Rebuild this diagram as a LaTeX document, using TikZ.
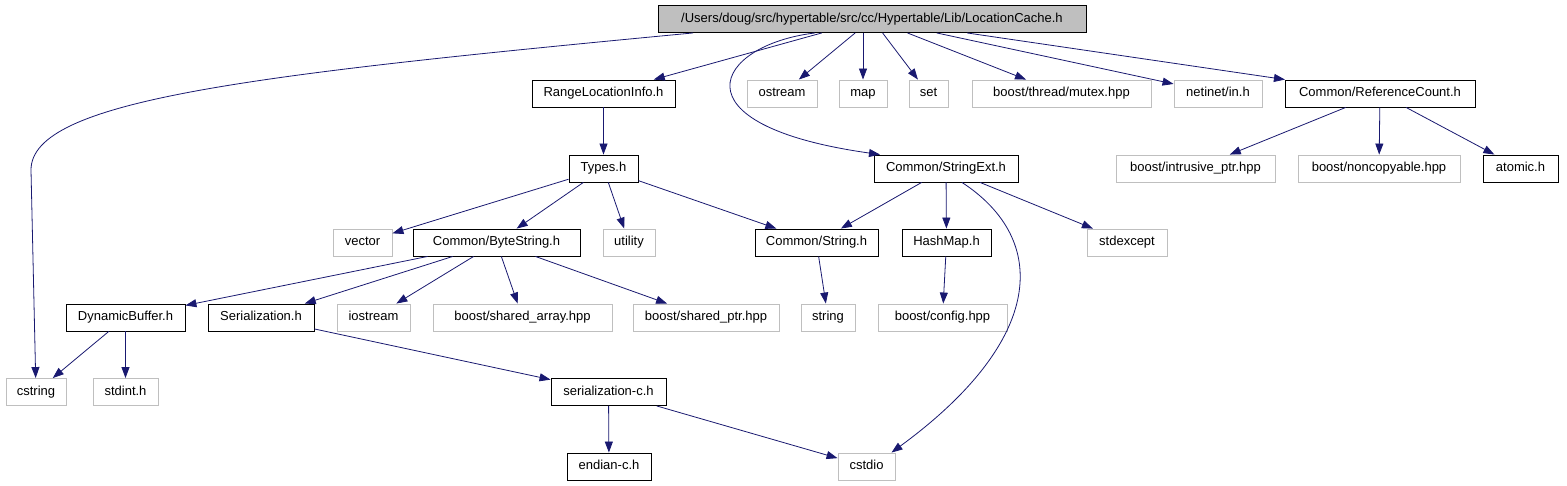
\documentclass[tikz,border=0pt]{standalone}
\usepackage{fontspec}
\setmainfont{Liberation Sans}
\usetikzlibrary{arrows.meta}
\definecolor{edgeblue}{HTML}{191970}
\definecolor{extgray}{HTML}{BFBFBF}
\begin{document}
\begin{tikzpicture}[x=1pt, y=-1pt,
  file/.style={draw=black, line width=0.9pt, minimum height=27pt, inner sep=0pt, text height=9.5pt, text depth=2.8pt, font=\fontsize{13}{15}\selectfont},
  sysfile/.style={file, draw=extgray},
  rootfile/.style={file, fill=extgray},
  edge/.style={-{Triangle[length=11pt,width=8pt]}, draw=edgeblue, line width=0.8pt}]
\useasboundingbox (0,0) rectangle (1567,485);
% File radice
\node[rootfile, minimum width=428pt] (root) at (872,19) {/Users/doug/src/hypertable/src/cc/Hypertable/Lib/LocationCache.h};
% Primo livello
\node[file, minimum width=143pt] (rli) at (603.5,93.5) {RangeLocationInfo.h};
\node[sysfile, minimum width=70pt] (ostream) at (782,93.5) {ostream};
\node[sysfile, minimum width=48pt] (map) at (863,93.5) {map};
\node[sysfile, minimum width=39pt] (set) at (928.5,93.5) {set};
\node[sysfile, minimum width=179pt] (mutex) at (1061.5,93.5) {boost/thread/mutex.hpp};
\node[sysfile, minimum width=88pt] (netinet) at (1218,93.5) {netinet/in.h};
\node[file, minimum width=190pt] (refcount) at (1380,93.5) {Common/ReferenceCount.h};
% Secondo livello
\node[file, minimum width=69pt] (types) at (603.5,168.5) {Types.h};
\node[file, minimum width=144pt] (strext) at (946,168.5) {Common/StringExt.h};
\node[sysfile, minimum width=159pt] (intrusive) at (1195.5,168.5) {boost/intrusive\_ptr.hpp};
\node[sysfile, minimum width=162pt] (noncopy) at (1379,168.5) {boost/noncopyable.hpp};
\node[file, minimum width=75pt] (atomic) at (1520.5,168.5) {atomic.h};
% Terzo livello
\node[sysfile, minimum width=59pt] (vector) at (362.5,242.5) {vector};
\node[file, minimum width=167pt] (bytestr) at (496.5,242.5) {Common/ByteString.h};
\node[sysfile, minimum width=52pt] (utility) at (629,242.5) {utility};
\node[file, minimum width=123pt] (cstr) at (816.5,242.5) {Common/String.h};
\node[file, minimum width=89pt] (hashmap) at (946.5,242.5) {HashMap.h};
\node[sysfile, minimum width=80pt] (stdexcept) at (1127,242.5) {stdexcept};
% Quarto livello
\node[file, minimum width=119pt] (dynbuf) at (125.5,317.5) {DynamicBuffer.h};
\node[file, minimum width=106pt] (serial) at (261,317.5) {Serialization.h};
\node[sysfile, minimum width=73pt] (iostream) at (373.5,317.5) {iostream};
\node[sysfile, minimum width=179pt] (sharr) at (522.5,317.5) {boost/shared\_array.hpp};
\node[sysfile, minimum width=146pt] (shptr) at (706,317.5) {boost/shared\_ptr.hpp};
\node[sysfile, minimum width=54pt] (string) at (828,317.5) {string};
\node[sysfile, minimum width=129pt] (config) at (942.5,317.5) {boost/config.hpp};
% Ultimi livelli
\node[sysfile, minimum width=60pt] (cstring) at (36,392) {cstring};
\node[sysfile, minimum width=65pt] (stdint) at (125.5,392) {stdint.h};
\node[file, minimum width=115pt] (serialc) at (608.5,392) {serialization-c.h};
\node[file, minimum width=84pt] (endian) at (609,466.5) {endian-c.h};
\node[sysfile, minimum width=57pt] (cstdio) at (866.5,466.5) {cstdio};
% Archi dalla radice
\draw[edge] ([xshift=-179pt]root.south) .. controls (250,75) and (31,100) .. (31,170) -- (cstring);
\draw[edge] (root) -- (rli);
\draw[edge] ([xshift=-57pt]root.south) .. controls (715,45) and (670,125) .. ([xshift=-66pt]strext.north);
\draw[edge] (root) -- (ostream);
\draw[edge] (root.south -| map) -- (map);
\draw[edge] (root) -- (set);
\draw[edge] (root) -- (mutex);
\draw[edge] (root) -- (netinet);
\draw[edge] (root) -- (refcount);
% Archi interni
\draw[edge] (rli) -- (types);
\draw[edge] (types) -- (vector);
\draw[edge] (types) -- (bytestr);
\draw[edge] (types) -- (utility);
\draw[edge] (types) -- (cstr);
\draw[edge] (strext) -- (cstr);
\draw[edge] (strext) -- (hashmap);
\draw[edge] ([xshift=16pt]strext.south) .. controls (1050,240) and (1045,340) .. ([xshift=25pt]cstdio.north);
\draw[edge] (strext) -- (stdexcept);
\draw[edge] (refcount) -- (intrusive);
\draw[edge] (refcount) -- (noncopy);
\draw[edge] (refcount) -- (atomic);
\draw[edge] (bytestr) -- (dynbuf);
\draw[edge] (bytestr) -- (serial);
\draw[edge] (bytestr) -- (iostream);
\draw[edge] (bytestr) -- (sharr);
\draw[edge] (bytestr) -- (shptr);
\draw[edge] (cstr) -- (string);
\draw[edge] (hashmap) -- (config);
\draw[edge] (dynbuf) -- (cstring);
\draw[edge] (dynbuf) -- (stdint);
\draw[edge] (serial) -- (serialc);
\draw[edge] (serialc) -- (endian);
\draw[edge] (serialc) -- (cstdio);
\end{tikzpicture}
\end{document}
